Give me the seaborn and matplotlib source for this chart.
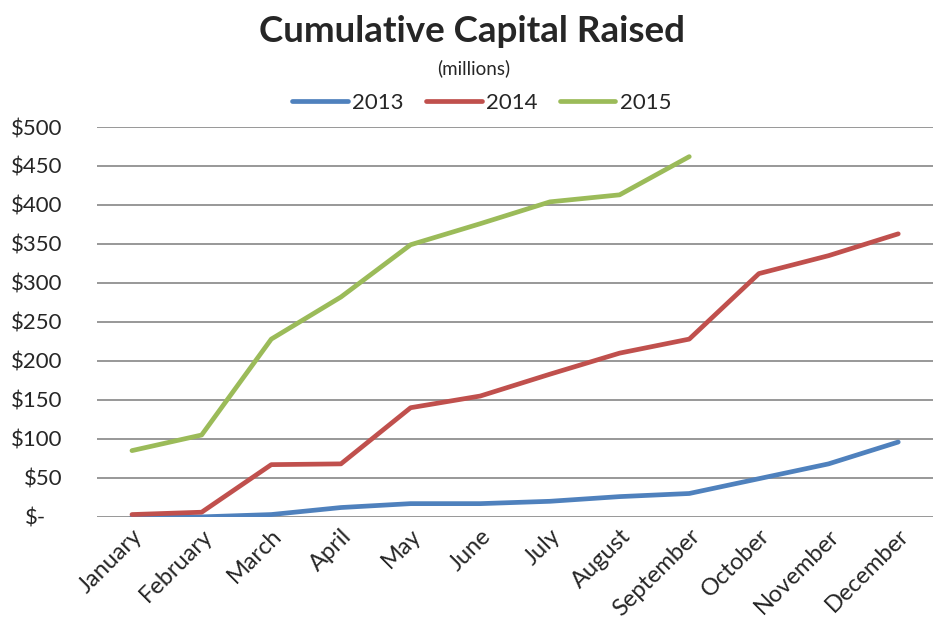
import matplotlib
matplotlib.use("Agg")
import matplotlib.pyplot as plt
import matplotlib.transforms as mtransforms
import seaborn as sns
import pandas as pd
import numpy as np
from matplotlib.lines import Line2D

months = ["January", "February", "March", "April", "May", "June", "July",
          "August", "September", "October", "November", "December"]
v2013 = [0, 0, 3, 12, 17, 17, 20, 26, 30, 49, 68, 96]
v2014 = [3, 6, 67, 68, 140, 155, 183, 210, 228, 312, 335, 363]
v2015 = [85, 105, 228, 282, 349, 376, 404, 413, 462]
series_names = ["2013", "2014", "2015"]
colors = ["#4F81BD", "#C0504D", "#9BBB59"]
yticks = [0, 50, 100, 150, 200, 250, 300, 350, 400, 450, 500]
ytick_labels = ["$-", "$50", "$100", "$150", "$200", "$250", "$300",
                "$350", "$400", "$450", "$500"]

rows = []
for name, vals in zip(series_names, [v2013, v2014, v2015]):
    for i, v in enumerate(vals):
        rows.append({"month_idx": i, "value": v, "year": name})
df = pd.DataFrame(rows)

sns.set_theme(style="white")
plt.rcParams['font.family'] = ['Lato', 'DejaVu Sans']

fig = plt.figure(figsize=(9.34, 6.35), dpi=100)
ax = fig.add_axes([0.104, 0.186, 0.895, 0.614])

sns.lineplot(data=df, x="month_idx", y="value", hue="year",
             palette=dict(zip(series_names, colors)), linewidth=3.4,
             ax=ax, legend=False, solid_capstyle="round")

ax.set_xlim(-0.5, 11.5)
ax.set_ylim(0, 500)
ax.tick_params(axis="y", length=0, pad=25)
ax.tick_params(axis="x", length=0, pad=6)
ax.set_yticks(yticks)
ax.set_yticklabels(ytick_labels, fontsize=16)
ax.set_xticks(range(len(months)))
ax.set_xticklabels(months, rotation=45, ha="right", rotation_mode="anchor", fontsize=17)
ax.yaxis.grid(True, color="#868686", linewidth=1.2)
ax.set_axisbelow(True)
for s in ax.spines.values():
    s.set_visible(False)
ax.set_xlabel("")
ax.set_ylabel("")

for i, lbl in enumerate(ax.get_yticklabels()):
    lbl.set_horizontalalignment("right")
    if i == 0:
        # Excel accounting "$-" sits further left of the right edge
        lbl.set_transform(lbl.get_transform() +
                          mtransforms.ScaledTranslation(-16 / 100, 0, fig.dpi_scale_trans))

fig.text(0.505, 0.950, "Cumulative Capital Raised", ha="center", va="center",
         fontsize=26.5, fontweight="bold")
fig.text(0.507, 0.893, "(millions)", ha="center", va="center", fontsize=13.5)

handles = [Line2D([0], [0], color=c, linewidth=3.4, solid_capstyle="round") for c in colors]
fig.legend(handles, series_names, loc="center", bbox_to_anchor=(0.516, 0.838),
           ncol=3, frameon=False, fontsize=16, handlelength=2.5,
           handletextpad=0.2, columnspacing=1.0)

fig.savefig("out.png", dpi=100)
